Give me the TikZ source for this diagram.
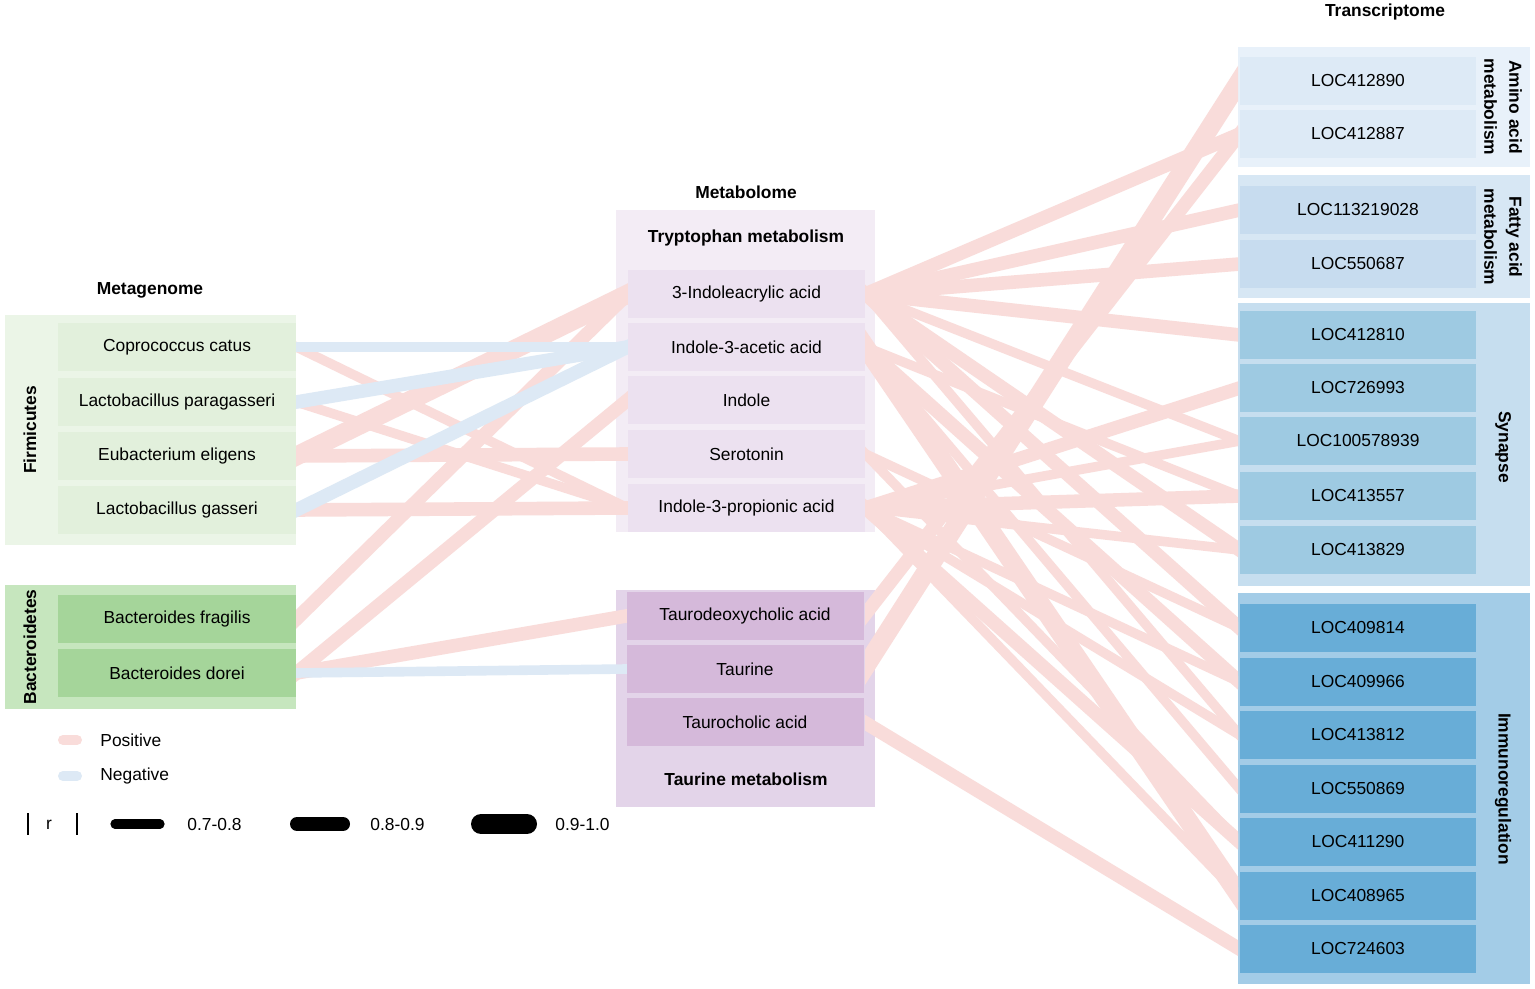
\documentclass[tikz,border=0pt]{standalone}
\usepackage{fontspec}
\setmainfont{Liberation Sans}
\pgfdeclarelayer{bg}
\pgfdeclarelayer{edges}
\pgfsetlayers{bg,edges,main}
\definecolor{posc}{HTML}{F9DCDA}
\definecolor{negc}{HTML}{DDE9F5}
\definecolor{firmOut}{HTML}{EBF5E7}
\definecolor{firmIn}{HTML}{E2F0DC}
\definecolor{bactOut}{HTML}{C6E6BE}
\definecolor{bactIn}{HTML}{A5D59A}
\definecolor{tryOut}{HTML}{F3ECF5}
\definecolor{tryIn}{HTML}{ECE1F0}
\definecolor{tauOut}{HTML}{E3D4E9}
\definecolor{tauIn}{HTML}{D5B9DA}
\definecolor{amOut}{HTML}{E8F1FA}
\definecolor{amIn}{HTML}{DDEAF6}
\definecolor{faOut}{HTML}{D7E7F4}
\definecolor{faIn}{HTML}{C7DCEF}
\definecolor{syOut}{HTML}{C6DEEF}
\definecolor{syIn}{HTML}{9ECAE2}
\definecolor{imOut}{HTML}{A3CCE7}
\definecolor{imIn}{HTML}{68ADD7}
\begin{document}
\begin{tikzpicture}[x=0.5pt,y=-0.5pt,
  every node/.style={font=\fontsize{8.7}{10.4}\selectfont, text=black},
  box/.style={inner sep=0pt, minimum height=24pt},
  mgbox/.style={box, minimum width=119pt},
  mbbox/.style={box, minimum width=118.5pt},
  tcbox/.style={box, minimum width=118pt},
  hdr/.style={font=\fontsize{8.7}{10.4}\selectfont\bfseries},
  grp/.style={font=\fontsize{8.7}{12.5}\selectfont\bfseries, align=center},
  lgtext/.style={anchor=west, inner sep=0pt},
  pe/.style={draw=posc, line cap=butt, shorten <=-8pt, shorten >=-8pt},
  ne/.style={draw=negc, line cap=butt, shorten <=-8pt, shorten >=-8pt},
  wA/.style={line width=4.8pt},
  wB/.style={line width=6.8pt},
  wC/.style={line width=9.5pt}]
\useasboundingbox (0,0) rectangle (1535,989);

% ---------- outer group boxes ----------
\begin{pgfonlayer}{bg}
\fill[white] (0,0) rectangle (1535,989);
\fill[firmOut] (5,315) rectangle (296,545);
\fill[bactOut] (5,585) rectangle (296,709);
\fill[tryOut] (616,210) rectangle (875,532);
\fill[tauOut] (616,590) rectangle (875,807);
\fill[amOut] (1238,47) rectangle (1530,167);
\fill[faOut] (1238,175) rectangle (1530,298);
\fill[syOut] (1238,303) rectangle (1530,586);
\fill[imOut] (1238,593) rectangle (1530,984);
\end{pgfonlayer}

% ---------- headers ----------
\node[hdr] (hMg) at (150,290) {Metagenome};
\node[hdr] (hMb) at (746,192) {Metabolome};
\node[hdr] (hTc) at (1385,12) {Transcriptome};
\node[hdr] (hTry) at (746,238) {Tryptophan metabolism};
\node[hdr] (hTau) at (746,779) {Taurine metabolism};
\node[grp, rotate=90] (lFirm) at (30,430) {Firmicutes};
\node[grp, rotate=90] (lBact) at (30,647) {Bacteroidetes};
\node[grp, rotate=-90] (lAm) at (1503,107) {Amino acid\\metabolism};
\node[grp, rotate=-90] (lFa) at (1503,237) {Fatty acid\\metabolism};
\node[grp, rotate=-90] (lSy) at (1503,447) {Synapse};
\node[grp, rotate=-90] (lIm) at (1503,789) {Immunoregulation};

% ---------- metagenome ----------
\node[mgbox, fill=firmIn] (cc) at (177,347) {Coprococcus catus};
\node[mgbox, fill=firmIn] (lp) at (177,402) {Lactobacillus paragasseri};
\node[mgbox, fill=firmIn] (eub) at (177,456) {Eubacterium eligens};
\node[mgbox, fill=firmIn] (lg) at (177,510) {Lactobacillus gasseri};
\node[mgbox, fill=bactIn] (frag) at (177,619) {Bacteroides fragilis};
\node[mgbox, fill=bactIn] (dor) at (177,673) {Bacteroides dorei};

% ---------- metabolome ----------
\node[mbbox, fill=tryIn] (ia) at (746.5,294) {3-Indoleacrylic acid};
\node[mbbox, fill=tryIn] (iaa) at (746.5,347) {Indole-3-acetic acid};
\node[mbbox, fill=tryIn] (ind) at (746.5,400) {Indole};
\node[mbbox, fill=tryIn] (ser) at (746.5,454) {Serotonin};
\node[mbbox, fill=tryIn] (ipa) at (746.5,508) {Indole-3-propionic acid};
\node[mbbox, fill=tauIn] (tdca) at (745,616) {Taurodeoxycholic acid};
\node[mbbox, fill=tauIn] (tau) at (745,669) {Taurine};
\node[mbbox, fill=tauIn] (tca) at (745,722) {Taurocholic acid};

% ---------- transcriptome ----------
\node[tcbox, fill=amIn] (g412890) at (1358,81) {LOC412890};
\node[tcbox, fill=amIn] (g412887) at (1358,134) {LOC412887};
\node[tcbox, fill=faIn] (g113219028) at (1358,210) {LOC113219028};
\node[tcbox, fill=faIn] (g550687) at (1358,264) {LOC550687};
\node[tcbox, fill=syIn] (g412810) at (1358,335) {LOC412810};
\node[tcbox, fill=syIn] (g726993) at (1358,388) {LOC726993};
\node[tcbox, fill=syIn] (g100578939) at (1358,441) {LOC100578939};
\node[tcbox, fill=syIn] (g413557) at (1358,496) {LOC413557};
\node[tcbox, fill=syIn] (g413829) at (1358,550) {LOC413829};
\node[tcbox, fill=imIn] (g409814) at (1358,628) {LOC409814};
\node[tcbox, fill=imIn] (g409966) at (1358,682) {LOC409966};
\node[tcbox, fill=imIn] (g413812) at (1358,735) {LOC413812};
\node[tcbox, fill=imIn] (g550869) at (1358,789) {LOC550869};
\node[tcbox, fill=imIn] (g411290) at (1358,842) {LOC411290};
\node[tcbox, fill=imIn] (g408965) at (1358,896) {LOC408965};
\node[tcbox, fill=imIn] (g724603) at (1358,949) {LOC724603};

% ---------- connectors ----------
\begin{pgfonlayer}{edges}
% metagenome -> metabolome
\begin{scope}
\clip (296,0) rectangle (628,989);
\draw[pe,wA] (cc.east) -- (ipa.west);
\draw[pe,wA] (lp.east) -- (ipa.west);
\draw[pe,wC] (eub.east) -- (ia.west);
\draw[pe,wB] (eub.east) -- (ser.west);
\draw[pe,wB] (lg.east) -- (ipa.west);
\draw[pe,wB] (frag.east) -- (ia.west);
\draw[pe,wB] (dor.east) -- (ind.west);
\draw[pe,wB] (dor.east) -- (tdca.west);
\draw[ne,wA] (cc.east) -- (iaa.west);
\draw[ne,wB] (lp.east) -- (iaa.west);
\draw[ne,wB] (lg.east) -- (iaa.west);
\draw[ne,wA] (dor.east) -- (tau.west);
\end{scope}
% metabolome -> transcriptome
\begin{scope}
\clip (865,0) rectangle (1238,989);
\draw[pe,wB] (ia.east) -- (g412887.west);
\draw[pe,wB] (ia.east) -- (g113219028.west);
\draw[pe,wB] (ia.east) -- (g550687.west);
\draw[pe,wB] (ia.east) -- (g412810.west);
\draw[pe,wA] (ia.east) -- (g100578939.west);
\draw[pe,wB] (ia.east) -- (g413829.west);
\draw[pe,wB] (ia.east) -- (g409814.west);
\draw[pe,wA] (ia.east) -- (g413812.west);
\draw[pe,wA] (iaa.east) -- (g413557.west);
\draw[pe,wB] (iaa.east) -- (g409966.west);
\draw[pe,wA] (iaa.east) -- (g550869.west);
\draw[pe,wC] (iaa.east) -- (g408965.west);
\draw[pe,wA] (ser.east) -- (g409814.west);
\draw[pe,wA] (ser.east) -- (g411290.west);
\draw[pe,wB] (ipa.east) -- (g726993.west);
\draw[pe,wA] (ipa.east) -- (g100578939.west);
\draw[pe,wB] (ipa.east) -- (g413557.west);
\draw[pe,wA] (ipa.east) -- (g413829.west);
\draw[pe,wA] (ipa.east) -- (g409966.west);
\draw[pe,wB] (ipa.east) -- (g411290.west);
\draw[pe,wA] (ipa.east) -- (g408965.west);
\draw[pe,wA] (ipa.east) -- (g413812.west);
\draw[pe,wB] (tdca.east) -- (g412887.west);
\draw[pe,wC] (tau.east) -- (g412890.west);
\draw[pe,wB] (tca.east) -- (g724603.west);
\end{scope}
\end{pgfonlayer}

% ---------- legend ----------
\draw[posc, line width=5pt, line cap=round] (63,740) -- (77,740);
\node[lgtext] (lpos) at (100,740) {Positive};
\draw[negc, line width=5pt, line cap=round] (63,776) -- (77,776);
\node[lgtext] (lneg) at (100,776) {Negative};
\draw[black, line width=1.4pt] (28,813) -- (28,835);
\node (lr) at (49,825) {r};
\draw[black, line width=1.4pt] (77,813) -- (77,835);
\draw[black, line width=4.6pt, line cap=round] (115,824) -- (160,824);
\node[lgtext] (l1) at (187,825) {0.7-0.8};
\draw[black, line width=7pt, line cap=round] (297,824) -- (343,824);
\node[lgtext] (l2) at (370,825) {0.8-0.9};
\draw[black, line width=10pt, line cap=round] (481,824) -- (527,824);
\node[lgtext] (l3) at (555,825) {0.9-1.0};
\end{tikzpicture}
\end{document}
